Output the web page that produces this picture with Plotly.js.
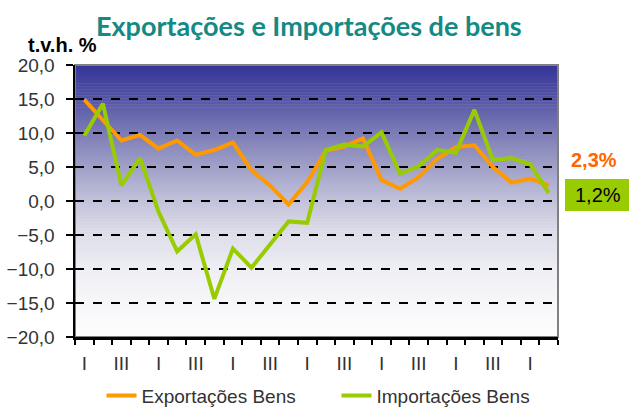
<!DOCTYPE html>
<html>
<head>
<meta charset="utf-8">
<script src="https://cdn.plot.ly/plotly-3.0.1.min.js"></script>
<style>html,body{margin:0;padding:0;background:#fff;}#chart{width:629px;height:408px;}</style>
</head>
<body>
<div id="chart"></div>
<script>
// ---- data ----
const quarters = ["I","II","III","IV","I","II","III","IV","I","II","III","IV","I","II","III","IV","I","II","III","IV","I","II","III","IV","I","II"];
const exportsBens = [14.9, 11.9, 8.9, 9.7, 7.7, 8.9, 6.8, 7.5, 8.6, 4.5, 2.3, -0.5, 2.8, 7.4, 8.0, 9.2, 3.1, 1.8, 3.5, 6.2, 7.9, 8.2, 5.0, 2.7, 3.3, 2.3];
const importsBens = [9.6, 14.3, 2.3, 6.3, -1.6, -7.4, -4.9, -14.4, -7.0, -9.8, -6.4, -3.0, -3.2, 7.5, 8.3, 8.0, 10.1, 4.0, 5.1, 7.5, 7.1, 13.4, 6.0, 6.3, 5.4, 1.2];
const seriesNames = ["Exportações Bens", "Importações Bens"];
const titleText = "Exportações e Importações de bens";
const unitText = "t.v.h. %";

// ---- helpers ----
const xIdx = quarters.map((q, i) => i);
const labelIdx = xIdx.filter(i => quarters[i] === "I" || quarters[i] === "III");
const fmt = v => v.toFixed(1).replace(".", ",") + "%";

// gradient background (style)
const stops = [[0, [51,51,153]], [0.125, [86,86,166]], [0.25, [124,124,182]], [0.375, [160,160,200]], [0.5, [194,194,218]], [0.625, [222,222,234]], [0.75, [238,238,244]], [0.875, [247,247,250]], [1, [253,253,253]]];
function colAt(t) {
  for (let k = 0; k < stops.length - 1; k++) {
    const [t0, c0] = stops[k], [t1, c1] = stops[k+1];
    if (t >= t0 && t <= t1) {
      const f = (t - t0) / (t1 - t0);
      return "rgb(" + c0.map((c, j) => Math.round(c + (c1[j] - c) * f)).join(",") + ")";
    }
  }
  return "rgb(253,253,253)";
}
const shapes = [];
const N = 90;
for (let s = 0; s < N; s++) {
  const t = (s + 0.5) / N;
  shapes.push({type: "rect", xref: "x domain", yref: "y domain", x0: 0, x1: 1,
    y0: 1 - s / N, y1: 1 - (s + 1) / N - 0.002, fillcolor: colAt(t), line: {width: 0}, layer: "below"});
}
shapes.push({type: "rect", xref: "x domain", yref: "y domain", x0: 0, x1: 1, y0: 0, y1: 1,
  line: {color: "#808080", width: 2}, fillcolor: "rgba(0,0,0,0)", layer: "below"});
// green label box
shapes.push({type: "rect", xref: "paper", yref: "paper", x0: 1.0145, x1: 1.16, y0: 0.463, y1: 0.581,
  fillcolor: "#99CC00", line: {width: 0}, layer: "above"});

const traces = [
  {x: xIdx, y: exportsBens, name: seriesNames[0], type: "scatter", mode: "lines",
   line: {color: "#FF9900", width: 4}},
  {x: xIdx, y: importsBens, name: seriesNames[1], type: "scatter", mode: "lines",
   line: {color: "#99CC00", width: 4}},
  {x: labelIdx, y: labelIdx.map(() => null), xaxis: "x2", yaxis: "y", showlegend: false, hoverinfo: "skip", type: "scatter", mode: "lines"}
];

const layout = {
  width: 629, height: 408,
  margin: {l: 75, r: 71, t: 65, b: 71},
  paper_bgcolor: "#ffffff",
  plot_bgcolor: "rgba(0,0,0,0)",
  separators: ",.",
  font: {family: "Liberation Sans, Arial, sans-serif", size: 17, color: "#333333"},
  title: {text: "<b>" + titleText + "</b>", font: {family: "Lato, Open Sans, sans-serif", size: 27, color: "#138A84"},
          x: 0.491, xanchor: "center", xref: "container", y: 0.935, yanchor: "middle", yref: "container"},
  xaxis: {range: [-0.5, 25.5], tickmode: "linear", tick0: -0.5, dtick: 1, ticks: "outside", ticklen: 5,
          tickwidth: 2, tickcolor: "#000", showticklabels: false, showgrid: false, zeroline: false,
          showline: true, linecolor: "#000", linewidth: 2.5, layer: "above traces"},
  xaxis2: {overlaying: "x", anchor: "y", side: "bottom", range: [-0.5, 25.5], tickmode: "array",
           tickvals: labelIdx, ticktext: labelIdx.map(i => quarters[i]), ticks: "", showgrid: false,
           zeroline: false, showline: false, ticklabelstandoff: 13,
           tickfont: {size: 19, color: "#333333"}},
  yaxis: {range: [-20, 20], tickmode: "linear", tick0: -20, dtick: 5, tickformat: ".1f",
          ticks: "outside", ticklen: 7, tickwidth: 2, tickcolor: "#000", ticklabelstandoff: 7,
          tickfont: {size: 19, color: "#333333"},
          showgrid: true, gridcolor: "#000", griddash: "dash", gridwidth: 1.5,
          zeroline: false, showline: true, linecolor: "#000", linewidth: 2.5},
  showlegend: true,
  legend: {orientation: "h", xref: "container", yref: "container", x: 0.535, xanchor: "center",
           y: 0.03, yanchor: "middle", entrywidth: 190, entrywidthmode: "pixels",
           font: {size: 19, color: "#333333"}, traceorder: "normal", itemwidth: 30, bgcolor: "rgba(0,0,0,0)"},
  shapes: shapes,
  annotations: [
    {text: "<b>" + unitText + "</b>", xref: "paper", yref: "paper", x: -0.025, y: 1.0735,
     xanchor: "center", yanchor: "middle", showarrow: false, font: {size: 20, color: "#000"}},
    {text: "<b>" + fmt(exportsBens[exportsBens.length - 1]) + "</b>", xref: "paper", yref: "paper",
     x: 1.0745, y: 0.651, xanchor: "center", yanchor: "middle", showarrow: false,
     font: {size: 20, color: "#FF6600"}},
    {text: fmt(importsBens[importsBens.length - 1]), xref: "paper", yref: "paper",
     x: 1.083, y: 0.522, xanchor: "center", yanchor: "middle", showarrow: false,
     font: {size: 20, color: "#000"}}
  ]
};

Plotly.newPlot("chart", traces, layout, {displayModeBar: false, staticPlot: true});
</script>
</body>
</html>
